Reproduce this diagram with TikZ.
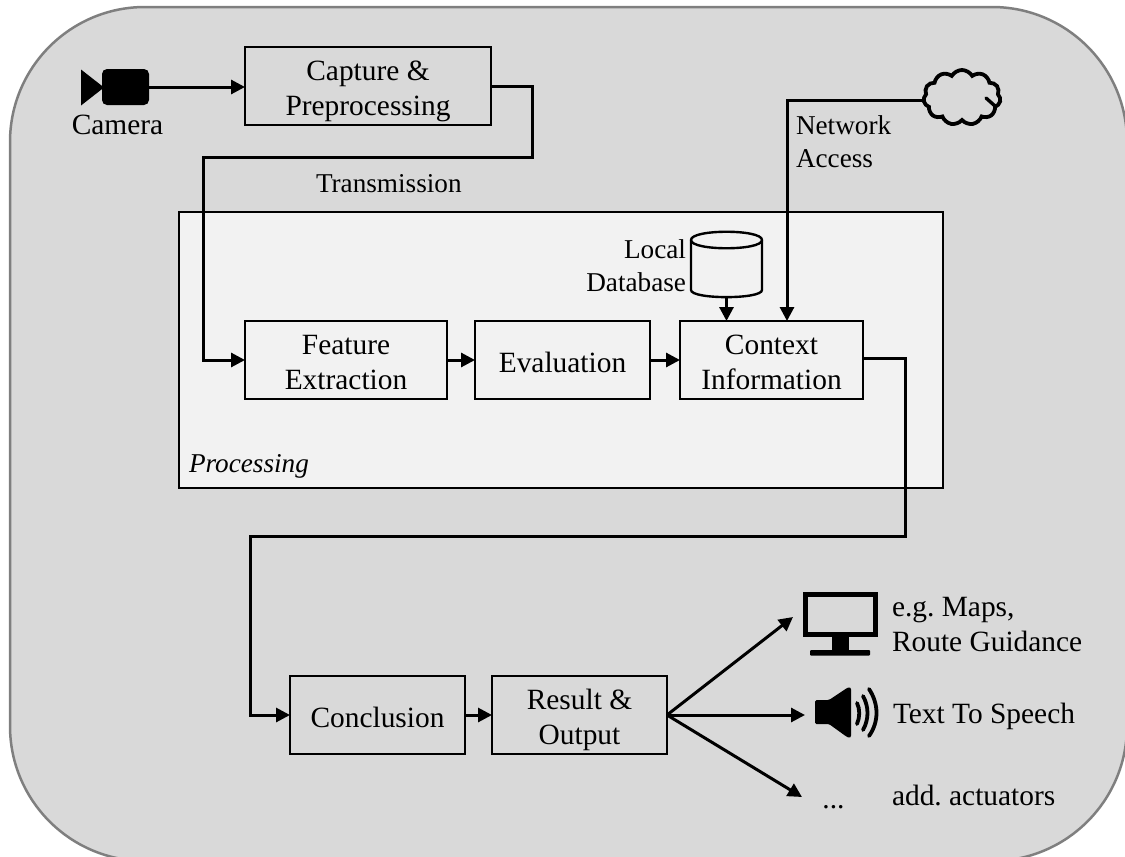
\documentclass[tikz,border=0pt]{standalone}
\usepackage{fontspec}
\setmainfont{Liberation Serif}
\usetikzlibrary{arrows.meta,shapes.symbols}
\frenchspacing
\newcommand{\smalltxt}{\fontsize{27.2}{33}\selectfont}
\newcommand{\boxtext}[1]{\raisebox{0pt}[31.35pt][8.65pt]{\begin{tabular}{@{}c@{}}#1\end{tabular}}}
\tikzset{
  x=1pt,y=-1pt,
  every node/.style={inner sep=0pt,outer sep=0pt,font=\fontsize{29.4}{35.5}\selectfont},
  stepbox/.style={draw=black,line width=2.8pt,fill=panel,minimum height=78pt,anchor=north west},
  conn/.style={draw=black,line width=3pt,line join=miter,-{Triangle[length=14pt,width=14pt]}},
  lab/.style={anchor=base west,align=left},
  labr/.style={anchor=base east,align=right},
  icon/.style={fill=black,draw=none},
}
\definecolor{outerfill}{HTML}{D9D9D9}
\definecolor{outerline}{HTML}{7F7F7F}
\definecolor{panel}{HTML}{F2F2F2}
\begin{document}
\begin{tikzpicture}
\useasboundingbox (0,0) rectangle (1125,857);
\clip (0,0) rectangle (1125,857);
\path[fill=outerfill,draw=outerline,line width=2.5pt,rounded corners=135pt] (10,7) rectangle (1127,861);
\node[draw=black,line width=1.8pt,fill=panel,minimum width=764pt,minimum height=276pt,anchor=north west] (proc) at (179,212) {};
\node[lab,font=\smalltxt] (proclab) at (189,472) {\itshape Processing};

% boxes
\node[stepbox,minimum width=246pt,fill=outerfill] (capture) at (245,47) {\boxtext{Capture \&\\Preprocessing}};
\node[stepbox,minimum width=202pt] (feature) at (245,321) {\boxtext{Feature\\Extraction}};
\node[stepbox,minimum width=175pt] (eval) at (475,321) {\boxtext{Evaluation}};
\node[stepbox,minimum width=183pt] (context) at (680,321) {\boxtext{Context\\Information}};
\node[stepbox,minimum width=175pt,fill=outerfill] (conclusion) at (290,676) {\boxtext{Conclusion}};
\node[stepbox,minimum width=175pt,fill=outerfill] (result) at (492,676) {\boxtext{Result \&\\Output}};

% camera
\fill[icon] (81,69.5) -- (81,105.5) -- (104,87.5) -- cycle;
\node[icon,rounded corners=5pt,minimum width=47pt,minimum height=36pt,anchor=north west] (camera) at (102,69) {};
\node[anchor=base] (cameralab) at (117.5,134) {Camera};

% cloud
\node[cloud,draw=black,line width=3.8pt,cloud puffs=11,cloud puff arc=120,aspect=1.4,minimum width=77pt,minimum height=55pt,fill=outerfill] (cloud) at (962,97.5) {};
\draw[black,line width=3.4pt,line cap=round] (986,98) -- (995,106);
\coordinate (cloudout) at (922,100);

% database
\node[minimum width=71pt,minimum height=65pt] (db) at (726.5,264.5) {};
\path[fill=panel,draw=black,line width=2.4pt] (691,240) .. controls (691,229) and (762,229) .. (762,240) -- (762,290) .. controls (762,299.5) and (691,299.5) .. (691,290) -- cycle;
\draw[black,line width=2.4pt] (691,240) .. controls (691,251) and (762,251) .. (762,240);

% connectors
\coordinate (capout) at (532,157);
\coordinate (featin) at (203,157);
\draw[conn] (camera.east) -- (capture.west |- camera.east);
\draw[conn] (capture.east) -| (capout) -- (featin) |- (feature.west);
\draw[conn] (feature.east) -- (eval.west);
\draw[conn] (eval.east) -- (context.west);
\draw[conn] (db.south) -- (db.south |- context.north);
\draw[conn] (cloudout) -| (787,321);
\coordinate (contextout) at (863,358);
\coordinate (lowright) at (905,536);
\coordinate (lowleft) at (250,536);
\draw[conn] (contextout) -| (lowright) -- (lowleft) |- (conclusion.west);
\draw[conn] (conclusion.east) -- (result.west);
\coordinate (tipscreen) at (793,617);
\coordinate (tipspeaker) at (805,715);
\coordinate (tipmore) at (802,797);
\draw[conn] (result.east) -- (tipscreen);
\draw[conn] (result.east) -- (result.east -| tipspeaker);
\draw[conn] (result.east) -- (tipmore);

% monitor
\draw[black,line width=5.5pt] (805.5,594.5) rectangle (875.5,634.5);
\fill[black] (832,636) rectangle (849,650);
\fill[black,rounded corners=1pt] (810,650) rectangle (870,655.5);

% speaker
\fill[black,rounded corners=1.5pt] (815,700) -- (829,700) -- (847,688) .. controls (850,687) and (851,688) .. (851,691) -- (851,734) .. controls (851,737) and (850,738) .. (847,737) -- (829,724) -- (815,724) -- cycle;
\draw[black,line width=3.8pt,line cap=round] (857,703) .. controls (860,709) and (860,717) .. (857,724);
\draw[black,line width=3.8pt,line cap=round] (863,696) .. controls (869,707) and (869,719) .. (863,730);
\draw[black,line width=3.8pt,line cap=round] (869,689) .. controls (879,704) and (879,722) .. (869,736);

% labels
\node[lab,font=\smalltxt] (translab) at (316,192) {Transmission};
\node[lab,font=\smalltxt] (netlab) at (796,134) {Network};
\node[lab,font=\smalltxt] (acclab) at (796,167) {Access};
\node[labr,font=\smalltxt] (loclab) at (686,258) {Local};
\node[labr,font=\smalltxt] (dblab) at (686,291) {Database};
\node[lab] (mapslab) at (892,616) {e.g. Maps,};
\node[lab] (routelab) at (892,651) {Route Guidance};
\node[lab] (ttslab) at (893,723) {Text To Speech};
\node[lab] (addlab) at (892,805) {add. actuators};
\node[anchor=base] (dots) at (833.5,808) {...};
\end{tikzpicture}
\end{document}
